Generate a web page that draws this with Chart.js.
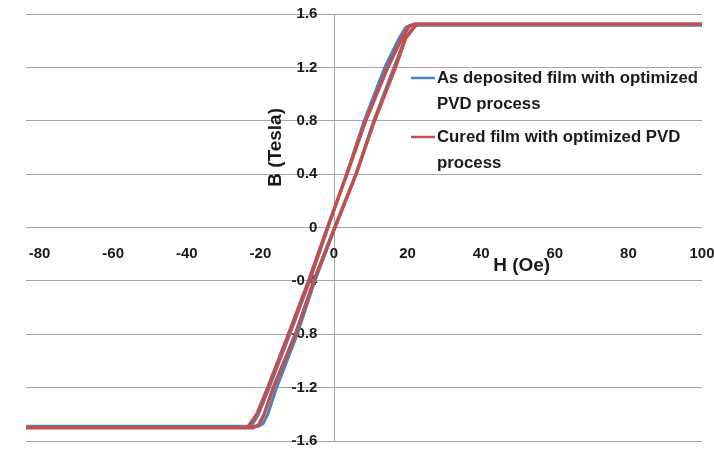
<!DOCTYPE html>
<html>
<head>
<meta charset="utf-8">
<script src="https://cdn.jsdelivr.net/npm/chart.js@4.4.1/dist/chart.umd.min.js"></script>
<style>
  body { margin: 0; background: #fff; }
  #wrap { width: 714px; height: 449px; }
</style>
</head>
<body>
<div id="wrap"><canvas id="loopChart"></canvas></div>
<script>
// tick values
const xTicks = [-80, -60, -40, -20, 0, 20, 40, 60, 80, 100];
const yTicks = [-1.6, -1.2, -0.8, -0.4, 0, 0.4, 0.8, 1.2, 1.6];

// legend labels (wrapped as in the picture)
const blueLabel = ['As deposited film with optimized', 'PVD process'];
const redLabel = ['Cured film with optimized PVD', 'process'];

// as deposited film: descending branch (upper) then ascending branch (lower)
const blueDownH = [100, 21, 19.5, 17.5, 13.8, 8.2, 3.4, -1.6, -6.6, -12.0, -17.6, -20.5, -22.5, -83.7];
const blueDownB = [1.515, 1.515, 1.50, 1.41, 1.2, 0.8, 0.4, 0, -0.4, -0.8, -1.2, -1.4, -1.49, -1.49];
const blueUpH = [-83.7, -20.5, -19.3, -18, -15.6, -10.0, -5.2, 0.3, 6.0, 10.8, 16.3, 19.2, 22, 100];
const blueUpB = [-1.49, -1.49, -1.47, -1.4, -1.2, -0.8, -0.4, 0, 0.4, 0.8, 1.2, 1.41, 1.515, 1.515];

// cured film
const redDownH = [100, 22, 20.5, 18.5, 14.6, 8.6, 3.5, -1.8, -6.9, -12.4, -18.0, -21.0, -23.5, -83.7];
const redDownB = [1.525, 1.525, 1.51, 1.42, 1.2, 0.8, 0.4, 0, -0.4, -0.8, -1.2, -1.4, -1.5, -1.5];
const redUpH = [-83.7, -22, -20.5, -19, -16.5, -10.5, -5.5, 0.2, 6.0, 11.0, 16.7, 19.5, 22.5, 100];
const redUpB = [-1.5, -1.5, -1.48, -1.4, -1.2, -0.8, -0.4, 0, 0.4, 0.8, 1.2, 1.42, 1.525, 1.525];

function loop(downH, downB, upH, upB) {
    const pts = downH.map((h, i) => ({x: h, y: downB[i]}));
    return pts.concat(upH.map((h, i) => ({x: h, y: upB[i]})));
}

const textColor = '#1a1a1a';
const gridColor = '#a6a6a6';
const tickFont = { family: '"Liberation Sans", Arial, sans-serif', size: 15, weight: 'bold' };

// axes sit inside the plot, so they should not push the plot area in
function noPadding(s) {
    s.paddingLeft = s.paddingRight = s.paddingTop = s.paddingBottom = 0;
}

// draws axis titles and the in-plot legend where Excel put them
const annotations = {
    id: 'annotations',
    afterDraw(chart) {
        const ctx = chart.ctx;
        const xs = chart.scales.x, ys = chart.scales.y;
        ctx.save();
        ctx.fillStyle = textColor;
        ctx.font = 'bold 19px "Liberation Sans", Arial, sans-serif';
        ctx.textAlign = 'center';
        ctx.textBaseline = 'middle';
        // B (Tesla)
        ctx.save();
        ctx.translate(xs.getPixelForValue(-15.9), ys.getPixelForValue(0.6));
        ctx.rotate(-Math.PI / 2);
        ctx.fillText('B (Tesla)', 0, 0);
        ctx.restore();
        // H (Oe)
        ctx.fillText('H (Oe)', xs.getPixelForValue(51), ys.getPixelForValue(-0.285));

        // legend
        ctx.font = 'bold 16.8px "Liberation Sans", Arial, sans-serif';
        ctx.textAlign = 'left';
        const lx = 411, lineLen = 24, lineH = 26;
        let ly = 78;
        chart.data.datasets.slice().sort((a, b) => a.legendIndex - b.legendIndex).forEach(ds => {
            ctx.strokeStyle = ds.borderColor;
            ctx.lineWidth = 2.5;
            ctx.beginPath();
            ctx.moveTo(lx, ly);
            ctx.lineTo(lx + lineLen, ly);
            ctx.stroke();
            ds.label.forEach((t, k) => ctx.fillText(t, lx + lineLen + 2, ly + k * lineH));
            ly += 2 * lineH + 7;
        });
        ctx.restore();
    }
};

new Chart('loopChart', {
    type: 'scatter',
    data: {
        datasets: [{
            label: redLabel,
            legendIndex: 1,
            data: loop(redDownH, redDownB, redUpH, redUpB),
            showLine: true,
            borderColor: '#c0504d',
            borderWidth: 3.5,
            pointRadius: 0,
            tension: 0,
            order: 0
        }, {
            label: blueLabel,
            legendIndex: 0,
            data: loop(blueDownH, blueDownB, blueUpH, blueUpB),
            showLine: true,
            borderColor: '#4f81bd',
            borderWidth: 3,
            pointRadius: 0,
            tension: 0,
            order: 1
        }]
    },
    options: {
        responsive: true,
        maintainAspectRatio: false,
        animation: false,
        layout: { padding: { left: 26, right: 12, top: 14, bottom: 8 } },
        plugins: { legend: { display: false }, tooltip: { enabled: false } },
        scales: {
            x: {
                type: 'linear',
                min: -83.7,
                max: 100,
                position: { y: 0 },
                afterBuildTicks: s => { s.ticks = xTicks.map(v => ({value: v})); },
                afterFit: noPadding,
                grid: {
                    drawTicks: false,
                    color: c => (c.tick && c.tick.value === 0) ? gridColor : 'rgba(0,0,0,0)'
                },
                border: { display: false },
                ticks: { padding: 17, color: textColor, font: tickFont }
            },
            y: {
                type: 'linear',
                min: -1.6,
                max: 1.6,
                position: { x: -4.5 },
                afterBuildTicks: s => { s.ticks = yTicks.map(v => ({value: v})); },
                afterFit: noPadding,
                grid: { drawTicks: false, color: gridColor },
                border: { display: false },
                ticks: { color: textColor, font: tickFont }
            }
        }
    },
    plugins: [annotations]
});
</script>
</body>
</html>
